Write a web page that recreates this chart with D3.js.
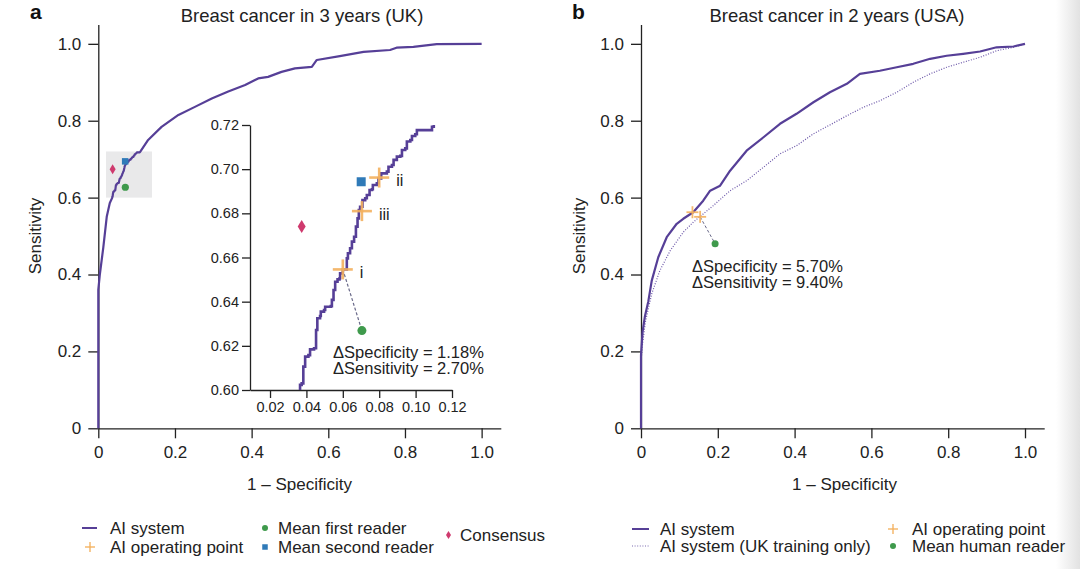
<!DOCTYPE html>
<html><head><meta charset="utf-8">
<script src="https://cdn.jsdelivr.net/npm/d3@7"></script>
<style>
body{margin:0;background:#fff}
svg{display:block;font-family:"Liberation Sans",Arial,Helvetica,sans-serif}
</style>
</head><body>
<svg id="c" width="1080" height="569"></svg>
<script>
// ---------- data ----------
const axisTicks = [0, 0.2, 0.4, 0.6, 0.8, 1.0];
const axisTickLabels = ["0", "0.2", "0.4", "0.6", "0.8", "1.0"];
const insetXTicks = [0.02, 0.04, 0.06, 0.08, 0.10, 0.12];
const insetXTickLabels = ["0.02", "0.04", "0.06", "0.08", "0.10", "0.12"];
const insetYTicks = [0.60, 0.62, 0.64, 0.66, 0.68, 0.70, 0.72];
const insetYTickLabels = ["0.60", "0.62", "0.64", "0.66", "0.68", "0.70", "0.72"];

// Panel a: AI system ROC (UK), [1 - specificity, sensitivity]
const ukRoc = [
  [0,0],[0,0.36],[0.004,0.40],[0.013,0.47],[0.022,0.55],[0.030,0.586],
  [0.0365,0.600],[0.0365,0.6023],[0.0374,0.603],[0.0383,0.6106],[0.0393,0.6151],
  [0.0411,0.6158],[0.042,0.6184],[0.0442,0.6189],[0.0453,0.6272],[0.046,0.6325],
  [0.0475,0.6335],[0.0479,0.6355],[0.0497,0.6362],[0.0503,0.6377],[0.0534,0.638],
  [0.054,0.6408],[0.0549,0.6453],[0.0558,0.649],[0.0571,0.6501],[0.0582,0.6506],
  [0.0585,0.6528],[0.060,0.6546],[0.0622,0.6596],[0.0628,0.6619],[0.064,0.6642],
  [0.065,0.6672],[0.0662,0.6694],[0.0672,0.674],[0.0681,0.6777],[0.0688,0.6815],
  [0.0695,0.683],[0.0708,0.686],[0.0723,0.6868],[0.0732,0.6883],[0.0747,0.6906],
  [0.076,0.6909],[0.0765,0.6928],[0.0787,0.6936],[0.0796,0.6958],[0.0811,0.6981],
  [0.0842,0.6989],[0.0851,0.7011],[0.087,0.7019],[0.0879,0.7042],[0.0897,0.7057],
  [0.0916,0.706],[0.0925,0.7087],[0.0943,0.7094],[0.0952,0.7125],[0.0971,0.7132],
  [0.098,0.715],[0.0998,0.7158],[0.1007,0.7177],[0.108,0.7177],[0.109,0.7192],
  [0.110,0.720],[0.13,0.75],[0.165,0.784],[0.209,0.815],[0.252,0.836],[0.296,0.858],
  [0.339,0.876],[0.383,0.893],[0.417,0.91],[0.443,0.914],[0.478,0.927],[0.513,0.936],
  [0.557,0.94],[0.57,0.958],[0.63,0.968],[0.692,0.979],[0.761,0.984],[0.778,0.99],
  [0.822,0.992],[0.883,0.999],[1.0,1.0]
];
const ukOperatingPoints = [[0.060,0.6546],[0.080,0.6962],[0.0705,0.6810]];
const ukOperatingLabels = ["i","ii","iii"];
const ukFirstReader = [0.0705,0.6269];
const ukSecondReader = [0.0701,0.6943];
const ukConsensus = [0.0374,0.6740];
const ukZoomBox = [0.02,0.14,0.60,0.72];
const ukDeltaText = ["ΔSpecificity = 1.18%","ΔSensitivity = 2.70%"];

// Panel b: USA
const usAi = [
  [0,0],[0,0.19],[0.004,0.25],[0.010,0.29],[0.019,0.33],[0.028,0.384],[0.045,0.445],
  [0.067,0.497],[0.093,0.532],[0.11,0.545],[0.136,0.562],[0.162,0.592],[0.18,0.618],
  [0.206,0.631],[0.232,0.67],[0.275,0.722],[0.319,0.757],[0.362,0.792],[0.405,0.818],
  [0.449,0.848],[0.492,0.874],[0.536,0.896],[0.57,0.922],[0.622,0.93],[0.666,0.939],
  [0.709,0.948],[0.753,0.961],[0.796,0.969],[0.839,0.974],[0.883,0.98],[0.926,0.991],
  [0.97,0.993],[1,1]
];
const usUkOnly = [
  [0,0],[0,0.17],[0.004,0.22],[0.012,0.28],[0.028,0.35],[0.049,0.41],[0.076,0.462],
  [0.11,0.51],[0.136,0.536],[0.154,0.551],[0.188,0.579],[0.232,0.618],[0.275,0.644],
  [0.319,0.679],[0.362,0.714],[0.405,0.735],[0.449,0.766],[0.492,0.789],[0.536,0.813],
  [0.579,0.835],[0.622,0.852],[0.666,0.874],[0.709,0.9],[0.753,0.922],[0.796,0.939],
  [0.839,0.952],[0.883,0.965],[0.926,0.982],[0.97,0.991],[1,1]
];
const usOperatingPoints = [[0.134,0.562],[0.154,0.550]];
const usHumanReader = [0.193,0.480];
const usDeltaText = ["ΔSpecificity = 5.70%","ΔSensitivity = 9.40%"];

const titles = ["Breast cancer in 3 years (UK)","Breast cancer in 2 years (USA)"];
const legendA = ["AI system","AI operating point","Mean first reader","Mean second reader","Consensus"];
const legendB = ["AI system","AI system (UK training only)","AI operating point","Mean human reader"];

// ---------- styles ----------
const C = {purple:"#563f97", green:"#3f9a4c", blue:"#2f7ab8", red:"#cf3a6e", orange:"#f3b05e", axis:"#222", text:"#222", box:"#e9e9ea"};

const svg = d3.select("#c");
const defs = svg.append("defs");
const grad = defs.append("linearGradient").attr("id","edge").attr("x1","0").attr("x2","1");
grad.append("stop").attr("offset","0").attr("stop-color","#ffffff");
grad.append("stop").attr("offset","1").attr("stop-color","#e2e2e2");
svg.append("rect").attr("x",1056).attr("y",0).attr("width",24).attr("height",569).attr("fill","url(#edge)");

function styleAxis(g, fs){
  g.select(".domain").attr("stroke",C.axis).attr("stroke-width",1.3);
  g.selectAll(".tick line").attr("stroke",C.axis).attr("stroke-width",1.3);
  g.selectAll(".tick text").attr("fill",C.text).attr("font-size",fs).attr("font-family",null);
}

function mainAxes(x, y){
  const gx = svg.append("g").attr("transform",`translate(0,${y(0)})`)
    .call(d3.axisBottom(x).tickValues(axisTicks).tickFormat((d,i)=>axisTickLabels[i]).tickSize(10).tickPadding(8).tickSizeOuter(0));
  styleAxis(gx, 17);
  const gy = svg.append("g").attr("transform",`translate(${x(0)},0)`)
    .call(d3.axisLeft(y).tickValues(axisTicks).tickFormat((d,i)=>axisTickLabels[i]).tickSize(10).tickPadding(7).tickSizeOuter(0));
  styleAxis(gy, 17);
}

function plus(g, cx, cy, s, w){
  g.append("line").attr("x1",cx-s).attr("x2",cx+s).attr("y1",cy).attr("y2",cy).attr("stroke",C.orange).attr("stroke-width",w).attr("stroke-opacity",0.9);
  g.append("line").attr("x1",cx).attr("x2",cx).attr("y1",cy-s).attr("y2",cy+s).attr("stroke",C.orange).attr("stroke-width",w).attr("stroke-opacity",0.9);
}
function diamond(g, cx, cy, w, h){
  g.append("path").attr("d",`M${cx},${cy-h}L${cx+w},${cy}L${cx},${cy+h}L${cx-w},${cy}Z`).attr("fill",C.red);
}
function square(g, cx, cy, s){
  g.append("rect").attr("x",cx-s/2).attr("y",cy-s/2).attr("width",s).attr("height",s).attr("fill",C.blue);
}
function dot(g, cx, cy, r){
  g.append("circle").attr("cx",cx).attr("cy",cy).attr("r",r).attr("fill",C.green);
}

// ---------- Panel a ----------
const xa = d3.scaleLinear().domain([0,1.05]).range([98.3,500.8]);
const ya = d3.scaleLinear().domain([0,1.05]).range([428.3,24.6]);

svg.append("text").attr("x",30).attr("y",19).attr("font-size",21).attr("font-weight","bold").attr("fill","#111").text("a");
svg.append("text").attr("x",302).attr("y",22).attr("text-anchor","middle").attr("font-size",18.5).attr("fill",C.text).text(titles[0]);

svg.append("rect").attr("x",xa(ukZoomBox[0])).attr("y",ya(ukZoomBox[3]))
  .attr("width",xa(ukZoomBox[1])-xa(ukZoomBox[0])).attr("height",ya(ukZoomBox[2])-ya(ukZoomBox[3]))
  .attr("fill",C.box);

mainAxes(xa, ya);

const lineA = d3.line().x(d=>xa(d[0])).y(d=>ya(d[1]));
svg.append("path").datum(ukRoc).attr("d",lineA).attr("fill","none").attr("stroke",C.purple).attr("stroke-width",2.2).attr("stroke-linejoin","round");

const ga = svg.append("g");
diamond(ga, xa(ukConsensus[0]), ya(ukConsensus[1]), 3, 5);
square(ga, xa(ukSecondReader[0]), ya(ukSecondReader[1]), 6.5);
dot(ga, xa(ukFirstReader[0]), ya(ukFirstReader[1]), 3.6);

svg.append("text").attr("transform",`translate(41,${ya(0.5)}) rotate(-90)`).attr("text-anchor","middle")
  .attr("font-size",17).attr("fill",C.text).text("Sensitivity");
svg.append("text").attr("x",xa(0.525)).attr("y",490).attr("text-anchor","middle").attr("font-size",17).attr("fill",C.text).text("1 – Specificity");

// inset
const xi = d3.scaleLinear().domain([0.009,0.12]).range([250,452]);
const yi = d3.scaleLinear().domain([0.60,0.72]).range([390,125]);
const gix = svg.append("g").attr("transform","translate(0,390)")
  .call(d3.axisBottom(xi).tickValues(insetXTicks).tickFormat((d,i)=>insetXTickLabels[i]).tickSize(8).tickPadding(4).tickSizeOuter(0));
styleAxis(gix, 14.5);
const giy = svg.append("g").attr("transform","translate(250,0)")
  .call(d3.axisLeft(yi).tickValues(insetYTicks).tickFormat((d,i)=>insetYTickLabels[i]).tickSize(8).tickPadding(3).tickSizeOuter(0));
styleAxis(giy, 14.5);

const insetData = ukRoc.filter(d=>d[1]>=0.6 && d[1]<=0.72);
const lineI = d3.line().x(d=>xi(d[0])).y(d=>yi(d[1])).curve(d3.curveStepAfter);
svg.append("path").datum(insetData).attr("d",lineI).attr("fill","none").attr("stroke",C.purple).attr("stroke-width",2.6);

const gi = svg.append("g");
gi.append("line").attr("x1",xi(ukOperatingPoints[0][0])).attr("y1",yi(ukOperatingPoints[0][1]))
  .attr("x2",xi(ukFirstReader[0])).attr("y2",yi(ukFirstReader[1]))
  .attr("stroke","#6a6a8a").attr("stroke-width",1.2).attr("stroke-dasharray","3,2");
diamond(gi, xi(ukConsensus[0]), yi(ukConsensus[1]), 4, 6.5);
square(gi, xi(ukSecondReader[0]), yi(ukSecondReader[1]), 9);
dot(gi, xi(ukFirstReader[0]), yi(ukFirstReader[1]), 4.5);
ukOperatingPoints.forEach((p,i)=>{
  plus(gi, xi(p[0]), yi(p[1]), 10, 2.6);
  gi.append("text").attr("x",xi(p[0])+17).attr("y",yi(p[1])+3).attr("dy","0.35em")
    .attr("font-size",16).attr("fill",C.text).text(ukOperatingLabels[i]);
});
ukDeltaText.forEach((t,i)=>{
  svg.append("text").attr("x",333).attr("y",358+i*16).attr("font-size",16.5).attr("fill",C.text).text(t);
});

// legend a
const la = svg.append("g");
la.append("line").attr("x1",82).attr("x2",97).attr("y1",528).attr("y2",528).attr("stroke",C.purple).attr("stroke-width",2);
plus(la, 90, 547, 5, 1.5);
dot(la, 265, 528, 3);
square(la, 265, 547, 5.5);
diamond(la, 448.5, 535, 2.5, 4);
[[110,528,0],[110,547,1],[278,528,2],[278,547,3],[460,535,4]].forEach(([x,y,i])=>{
  la.append("text").attr("x",x).attr("y",y).attr("dy","0.35em").attr("font-size",17).attr("fill",C.text).text(legendA[i]);
});

// ---------- Panel b ----------
const xb = d3.scaleLinear().domain([0,1.05]).range([641,1044.2]);
const yb = ya;

svg.append("text").attr("x",572).attr("y",19).attr("font-size",21).attr("font-weight","bold").attr("fill","#111").text("b");
svg.append("text").attr("x",837).attr("y",22).attr("text-anchor","middle").attr("font-size",18.5).attr("fill",C.text).text(titles[1]);

mainAxes(xb, yb);

const lineB = d3.line().x(d=>xb(d[0])).y(d=>yb(d[1]));
svg.append("path").datum(usUkOnly).attr("d",lineB).attr("fill","none").attr("stroke","#6a55a8").attr("stroke-width",1.2).attr("stroke-dasharray","1,1.6");
svg.append("path").datum(usAi).attr("d",lineB).attr("fill","none").attr("stroke",C.purple).attr("stroke-width",2.2).attr("stroke-linejoin","round");

const gb = svg.append("g");
gb.append("line").attr("x1",xb(usOperatingPoints[1][0])).attr("y1",yb(usOperatingPoints[1][1]))
  .attr("x2",xb(usHumanReader[0])).attr("y2",yb(usHumanReader[1]))
  .attr("stroke","#6a6a8a").attr("stroke-width",1).attr("stroke-dasharray","3,2");
usOperatingPoints.forEach(p=>plus(gb, xb(p[0]), yb(p[1]), 6, 1.8));
dot(gb, xb(usHumanReader[0]), yb(usHumanReader[1]), 3.5);
usDeltaText.forEach((t,i)=>{
  svg.append("text").attr("x",692).attr("y",272+i*16).attr("font-size",16.5).attr("fill",C.text).text(t);
});

svg.append("text").attr("transform",`translate(585,${yb(0.5)}) rotate(-90)`).attr("text-anchor","middle")
  .attr("font-size",17).attr("fill",C.text).text("Sensitivity");
svg.append("text").attr("x",xb(0.53)).attr("y",490).attr("text-anchor","middle").attr("font-size",17).attr("fill",C.text).text("1 – Specificity");

// legend b
const lb = svg.append("g");
lb.append("line").attr("x1",632).attr("x2",649).attr("y1",529).attr("y2",529).attr("stroke",C.purple).attr("stroke-width",2);
lb.append("line").attr("x1",632).attr("x2",649).attr("y1",546).attr("y2",546).attr("stroke","#7a6ab0").attr("stroke-width",1.2).attr("stroke-dasharray","1,1.6");
plus(lb, 893, 529, 5, 1.5);
dot(lb, 893, 546, 3);
[[660,529,0],[660,546,1],[912,529,2],[912,546,3]].forEach(([x,y,i])=>{
  lb.append("text").attr("x",x).attr("y",y).attr("dy","0.35em").attr("font-size",17).attr("fill",C.text).text(legendB[i]);
});
</script>
</body></html>
